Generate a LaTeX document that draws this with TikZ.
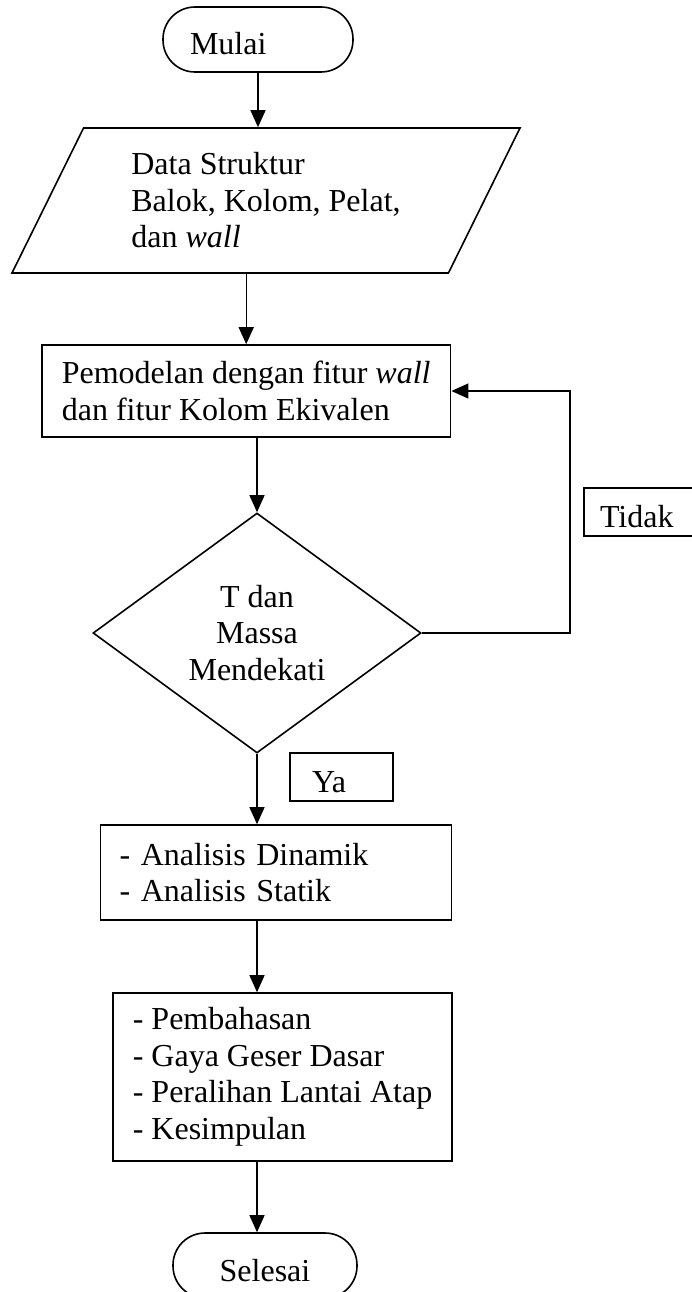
\documentclass[tikz,border=0pt]{standalone}
\usepackage{fontspec}
\setmainfont{Liberation Serif}
\usetikzlibrary{shapes.geometric,arrows.meta}

\begin{document}
\begin{tikzpicture}[
    x=1pt, y=-1pt,
    every node/.style={font=\fontsize{32}{36.5}\selectfont, line width=1.6pt},
    terminal/.style={draw, rectangle, rounded corners=32pt, minimum height=65pt, text height=31pt, text depth=0pt, inner ysep=0pt},
    iobox/.style={draw, trapezium, trapezium left angle=55, trapezium right angle=125, trapezium stretches body, minimum width=508pt, minimum height=145pt, align=left},
    procbox/.style={draw, rectangle, align=left, inner xsep=20pt},
    decision/.style={draw, diamond, minimum width=328pt, minimum height=240pt, align=center, inner sep=0pt},
    labelbox/.style={draw, rectangle, minimum height=48pt, text height=30pt, text depth=0pt, inner ysep=0pt, align=left},
    flow/.style={line width=1.4pt, -{Triangle[length=17pt,width=15pt]}}
  ]
    \useasboundingbox (0,0) rectangle (691,1292);

    % Blocks
    \node[terminal, text width=136pt, inner xsep=27pt, align=left] at (258,39.5) (start) {Mulai};
    \node[iobox] at (266,200.5) (data) {Data Struktur\\Balok, Kolom, Pelat,\\dan \textit{wall}};
    \node[procbox, anchor=west, minimum height=92pt] at (41,391) (model) {Pemodelan dengan fitur \textit{wall}\\dan fitur Kolom Ekivalen};
    \node[decision] at (257,633) (check) {T dan\\Massa\\Mendekati};
    \node[procbox, text width=313pt, inner xsep=19pt, minimum height=95pt] at (276,872.5) (analysis) {- Analisis Dinamik\\- Analisis Statik};
    \node[procbox, anchor=west, minimum height=168pt] at (112,1077) (result) {- Pembahasan\\- Gaya Geser Dasar\\- Peralihan Lantai Atap\\- Kesimpulan};
    \node[terminal, minimum width=184pt] at (265,1265.5) (finish) {Selesai};

    % Branch labels
    \node[labelbox, text width=84pt, inner xsep=16pt] at (642,512) (no) {Tidak};
    \node[labelbox, text width=59pt, inner xsep=22pt] at (341.5,777) (yes) {Ya};

    \coordinate (turn) at (570,391);

    % Connections
    \draw[flow] (start) -- (start |- data.north);
    \draw[flow] (data.south -| model.north) -- (model.north);
    \draw[flow] (model.south -| check.north) -- (check.north);
    \draw[flow] (check.south) -- (check.south |- analysis.north);
    \draw[flow] (analysis.south -| check.south) -- (result.north -| check.south);
    \draw[flow] (result.south -| check.south) -- (finish.north -| check.south);
    \draw[flow] (check.east) -| (turn) -- (model.east);

\end{tikzpicture}
\end{document}
